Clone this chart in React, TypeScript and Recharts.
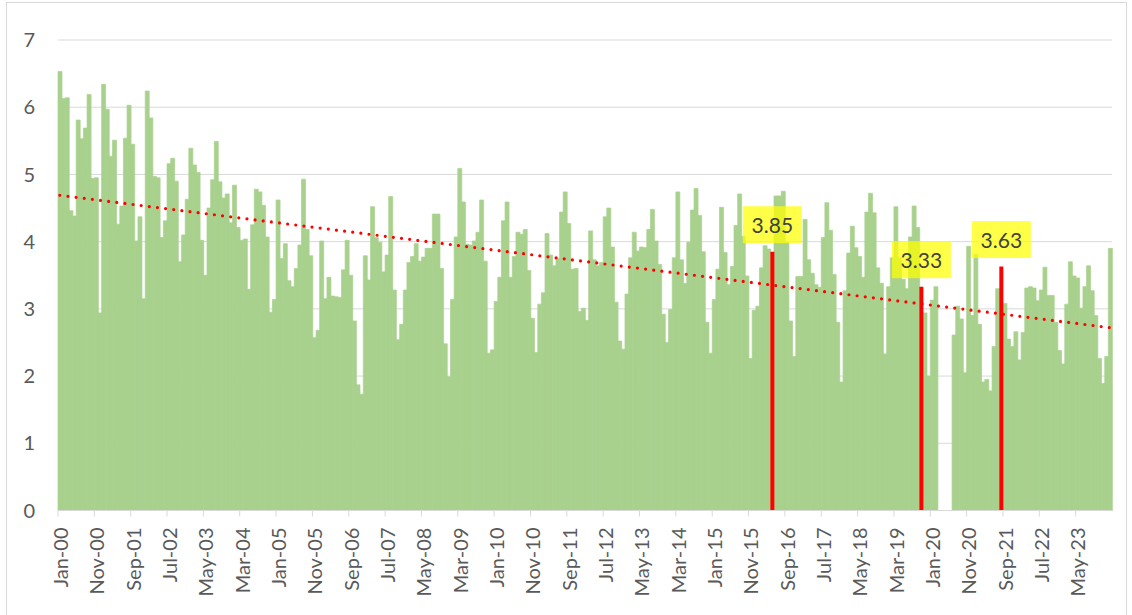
import React from 'react';
import { ComposedChart, Bar, Line, XAxis, YAxis, CartesianGrid, LabelList } from 'recharts';

const MONTHS = ['Jan', 'Feb', 'Mar', 'Apr', 'May', 'Jun', 'Jul', 'Aug', 'Sep', 'Oct', 'Nov', 'Dec'];

// monthly values Jan-00 .. Feb-24 (null = no data / highlighted month)
const greenValues: (number | null)[] = [
  6.53, 6.13, 6.14, 4.46, 4.38, 5.81, 5.53, 5.69, 6.19, 4.94,
  4.95, 2.94, 6.34, 5.97, 5.27, 5.51, 4.26, 4.53, 5.54, 6.03,
  5.45, 4.01, 4.37, 3.15, 6.24, 5.84, 4.97, 4.95, 4.06, 4.31,
  5.16, 5.24, 4.90, 3.70, 4.10, 4.63, 5.39, 5.14, 5.03, 4.02,
  3.50, 4.50, 4.92, 5.49, 4.89, 4.65, 4.71, 4.28, 4.84, 4.21,
  4.02, 4.04, 3.29, 4.25, 4.78, 4.74, 4.54, 4.07, 2.95, 3.14,
  4.62, 3.75, 3.97, 3.42, 3.33, 3.60, 3.95, 4.93, 4.18, 3.79,
  2.57, 2.68, 4.01, 3.15, 3.47, 3.19, 3.18, 3.17, 3.58, 4.02,
  3.50, 2.82, 1.87, 1.73, 3.79, 3.43, 4.52, 4.06, 3.99, 3.55,
  3.80, 4.67, 3.28, 2.54, 2.77, 3.28, 3.69, 3.78, 3.97, 3.71,
  3.77, 3.90, 3.90, 4.41, 4.41, 3.60, 2.48, 1.99, 3.14, 4.07,
  5.09, 4.59, 3.96, 3.95, 4.01, 4.14, 4.62, 3.71, 2.34, 2.39,
  3.11, 3.47, 4.31, 4.59, 3.47, 3.78, 4.14, 4.11, 4.18, 3.57,
  2.86, 2.35, 3.07, 3.24, 4.12, 3.80, 3.64, 3.75, 4.44, 4.74,
  4.27, 3.59, 3.60, 2.96, 3.01, 2.83, 4.16, 3.73, 3.64, 3.69,
  4.37, 4.50, 3.92, 3.10, 2.52, 2.40, 3.22, 3.76, 4.14, 3.86,
  3.92, 3.91, 4.18, 4.48, 4.01, 3.66, 2.92, 2.50, 2.99, 3.76,
  4.74, 3.73, 3.38, 3.99, 4.47, 4.79, 4.39, 3.85, 2.80, 2.34,
  3.14, 3.59, 4.51, 3.84, 3.36, 3.63, 4.24, 4.71, 4.08, 3.49,
  2.26, 2.98, 3.04, 3.61, 3.94, 3.89, null, 4.68, 4.68, 4.75,
  3.99, 2.82, 2.29, 3.48, 3.48, 4.33, 3.73, 3.53, 3.36, 3.32,
  4.06, 4.58, 4.17, 3.51, 2.80, 1.91, 3.27, 3.83, 4.23, 3.91,
  3.78, 3.47, 4.44, 4.72, 4.43, 3.61, 3.38, 2.33, 3.33, 3.76,
  4.52, 3.76, 3.44, 3.30, 4.07, 4.53, 4.21, null, 2.94, 2.00,
  3.13, 3.33, null, null, null, null, 2.61, 3.04, 2.85, 2.05,
  3.93, 2.90, 3.81, 2.77, 1.91, 1.95, 1.78, 2.44, 3.30, null,
  3.08, 2.55, 2.44, 2.66, 2.24, 2.65, 3.31, 3.33, 3.31, 3.12,
  3.28, 3.62, 3.20, 3.20, 2.80, 2.38, 2.18, 3.07, 3.70, 3.49,
  3.46, 3.01, 3.33, 3.64, 3.27, 2.90, 2.26, 1.89, 2.29, 3.90,
];

const highlightMonths = ['May-16', 'Oct-19', 'Aug-21'];
const highlightValues = [3.85, 3.33, 3.63];

// linear trend line read at first and last month
const trendEnds = [4.69, 2.72];

const yTicks = [0, 1, 2, 3, 4, 5, 6, 7];

const categories = greenValues.map(
  (_, i) => `${MONTHS[i % 12]}-${String(Math.floor(i / 12)).padStart(2, '0')}`
);

const data = categories.map((month, i) => {
  const h = highlightMonths.indexOf(month);
  return {
    month,
    value: h >= 0 ? null : greenValues[i],
    highlight: h >= 0 ? highlightValues[h] : null,
    trend: i === 0 ? trendEnds[0] : i === categories.length - 1 ? trendEnds[1] : null,
  };
});

const FONT = 'Lato, "Open Sans", sans-serif';
const TEXT = '#595959';
const HALF_BAND = 1054 / 290 / 2;

function XTick(props: any) {
  const { x, y, payload } = props;
  const tx = x - HALF_BAND;
  const ty = y + 17;
  return (
    <g>
      <line x1={tx} x2={tx} y1={y} y2={y + 6} stroke="#D9D9D9" strokeWidth={1} />
      <text
        x={x}
        y={ty}
        transform={`rotate(-90 ${x} ${ty})`}
        textAnchor="end"
        dominantBaseline="central"
        fill={TEXT}
        fontSize={20}
        fontFamily={FONT}
      >
        {payload.value}
      </text>
    </g>
  );
}

function HighlightLabel(props: any) {
  const { x, y, width, value } = props;
  if (value === null || value === undefined) return null;
  const cx = Number(x) + Number(width) / 2;
  const boxW = 59;
  const boxH = 37;
  const top = Number(y) - 8.5 - boxH;
  return (
    <g>
      <rect x={cx - boxW / 2} y={top} width={boxW} height={boxH} fill="#FFFF00" fillOpacity={0.72} />
      <text
        x={cx}
        y={top + boxH / 2}
        textAnchor="middle"
        dominantBaseline="central"
        fill="#404040"
        fontSize={21}
        fontFamily={FONT}
      >
        {Number(value).toFixed(2)}
      </text>
    </g>
  );
}

export default function App() {
  return (
    <div style={{ position: 'fixed', left: 0, top: 0, width: 1132, height: 615, background: '#fff', overflow: 'hidden' }}>
      <div
        style={{
          position: 'absolute',
          left: 6,
          top: 2,
          width: 1121,
          height: 620,
          border: '1px solid #D9D9D9',
          boxSizing: 'border-box',
        }}
      />
      <ComposedChart
        width={1132}
        height={615}
        data={data}
        margin={{ top: 40, right: 20, left: 0, bottom: 0 }}
        barCategoryGap={0}
        barGap={0}
      >
        <CartesianGrid horizontal vertical={false} stroke="#D9D9D9" strokeWidth={1} />
        <YAxis
          domain={[0, 7]}
          ticks={yTicks}
          width={58}
          axisLine={false}
          tickLine={false}
          tickSize={0}
          tickMargin={23}
          tick={{ fill: TEXT, fontSize: 20, fontFamily: FONT }}
        />
        <XAxis
          dataKey="month"
          interval={9}
          height={104.5}
          axisLine={{ stroke: '#D9D9D9', strokeWidth: 1 }}
          tickLine={false}
          tickSize={0}
          tickMargin={0}
          tick={<XTick />}
        />
        <Bar dataKey="value" stackId="s" fill="#A9D18E" stroke="#A9D18E" strokeWidth={0.7} isAnimationActive={false} />
        <Bar dataKey="highlight" stackId="s" fill="#FF0000" isAnimationActive={false}>
          <LabelList dataKey="highlight" content={<HighlightLabel />} />
        </Bar>
        <Line
          dataKey="trend"
          type="linear"
          connectNulls
          stroke="#FF0000"
          strokeWidth={3.2}
          strokeDasharray="0 8.2"
          strokeLinecap="round"
          dot={false}
          activeDot={false}
          isAnimationActive={false}
        />
      </ComposedChart>
    </div>
  );
}
